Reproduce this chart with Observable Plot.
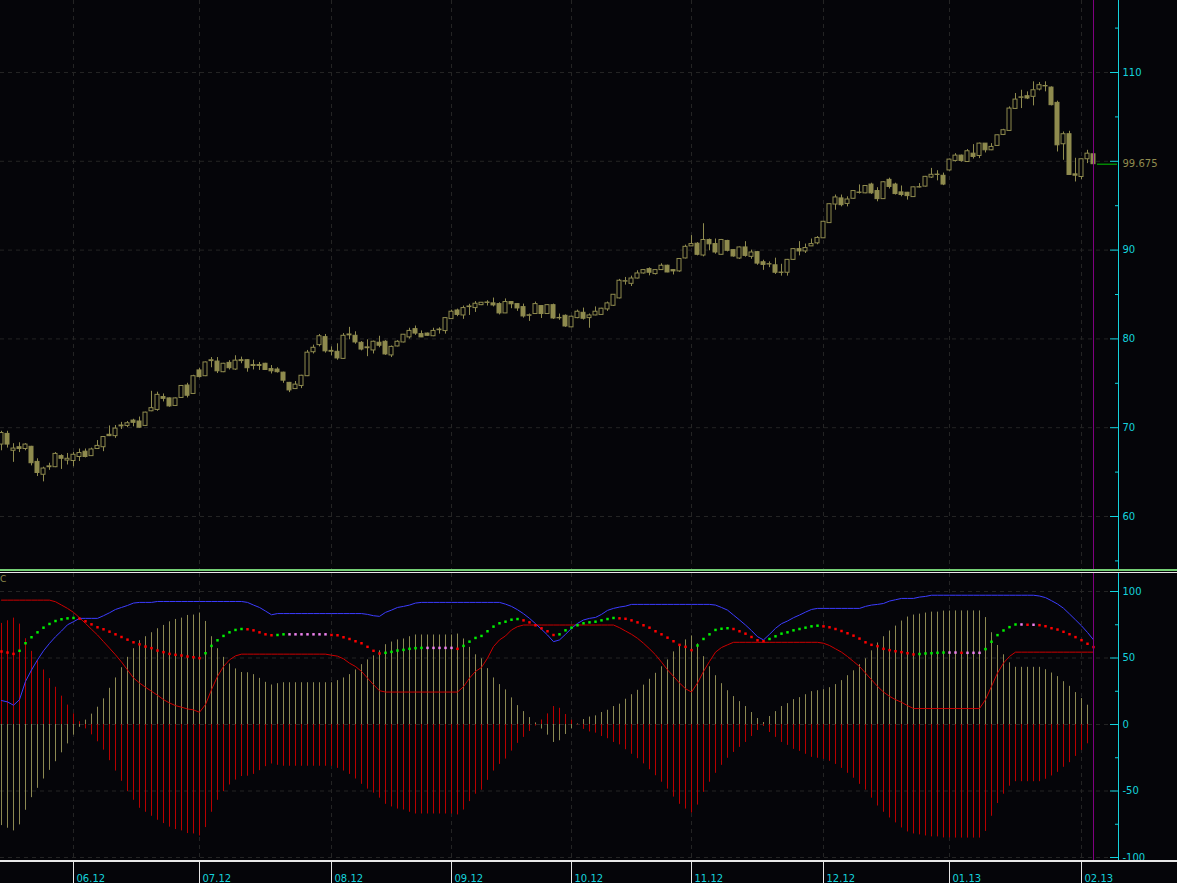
<!DOCTYPE html>
<html>
<head>
<meta charset="utf-8">
<script src="https://cdn.jsdelivr.net/npm/d3@7"></script>
<script src="https://cdn.jsdelivr.net/npm/@observablehq/plot@0.6"></script>
<style>
html,body{margin:0;padding:0;background:#050509;overflow:hidden}
#wrap{position:relative;width:1177px;height:883px;background:#050509;font-family:"DejaVu Sans",sans-serif}
.panel{position:absolute;left:0}
.sep{position:absolute;left:0;width:1177px}
#ind{position:absolute;left:0;top:574px;color:#8f8b4f;font-size:9px;line-height:10px}
</style>
</head>
<body>
<div id="wrap">
  <div id="topPanel" class="panel" style="top:0"></div>
  <div class="sep" style="top:569px;height:2px;background:#74cf74"></div>
  <div class="sep" style="top:572px;height:1px;background:#e8e8e8"></div>
  <div id="bottomPanel" class="panel" style="top:573px"></div>
  <div class="sep" style="top:860px;height:2px;background:#e8e8e8"></div>
  <div id="xaxisPanel" class="panel" style="top:862px"></div>
  <span id="ind">C</span>
</div>
<script>
// ---------- data ----------
const monthIdx = [12, 33, 55, 75, 95, 115, 137, 158, 180];
const monthLabels = ["06.12","07.12","08.12","09.12","10.12","11.12","12.12","01.13","02.13"];
const priceTicks = [60, 70, 80, 90, 100, 110];
const priceMinor = [55, 65, 75, 85, 95, 105, 115];
const oscTicks = [-100, -50, 0, 50, 100];
const oscMinor = [-75, -25, 25, 75];

const open = [
68.1,69.3,67.4,67.8,67.6,67.85,66.15,64.7,65.55,65.55,
66.8,66.3,66.25,66.7,67.3,66.8,67.6,67.8,69.2,69.05,
70.15,70.2,70.8,70.7,70.2,71.85,72.0,73.45,73.3,72.45,
73.35,74.75,73.8,76.45,75.8,77.5,77.45,76.25,77.3,76.55,
77.6,77.6,77.05,77.05,77.2,76.6,76.55,76.2,75.05,74.35,
74.7,75.8,78.5,79.3,80.2,78.55,78.55,77.75,80.4,80.35,
79.56,78.95,78.7,79.57,79.68,78.14,79.15,79.6,80.17,81.1,
80.54,80.6,80.3,80.98,80.88,82.23,83.2,82.64,83.58,83.47,
83.8,84.05,84.0,83.92,82.87,84.15,83.92,83.58,82.6,82.8,
83.7,82.8,83.8,82.36,82.6,81.3,82.34,82.94,82.34,82.64,
82.7,83.32,83.73,84.56,86.45,86.2,86.8,87.37,87.86,87.3,
87.75,88.24,87.75,87.6,89.06,90.42,90.72,89.39,91.14,90.68,
89.47,91.03,90.0,89.05,90.3,89.24,89.77,88.63,88.38,88.29,
87.43,87.45,88.9,90.11,89.85,90.42,90.76,91.33,93.04,95.13,
95.82,95.2,95.78,96.44,96.39,97.38,96.65,95.74,97.91,97.38,
96.5,96.46,95.97,97.05,97.15,98.17,98.46,98.37,98.97,100.04,
100.64,99.92,100.86,100.6,101.99,101.24,101.73,102.97,103.42,105.9,
107.15,107.33,107.26,108.08,108.44,108.3,106.58,101.92,103.05,98.53,
98.23,100.23,100.79];
const high = [
69.6,69.6,68.2,68.3,68.2,67.9,66.5,65.55,66.0,67.2,
66.95,67.1,67.2,67.6,67.6,67.7,68.55,68.97,70.2,70.25,
70.6,70.7,70.95,71.2,71.75,74.1,74.0,73.8,73.35,73.35,
74.75,75.0,75.9,76.7,77.4,77.9,77.9,77.25,77.55,78.1,
77.95,77.65,77.6,77.35,77.25,77.0,76.75,76.25,75.1,75.2,
75.9,78.7,79.3,80.5,80.5,79.1,79.45,80.6,81.3,80.8,
79.7,79.9,79.75,80.3,79.8,79.2,79.8,80.5,81.2,81.45,
80.9,80.65,81.2,81.25,82.4,83.24,83.35,83.7,83.9,84.2,
84.1,84.3,84.6,84.07,84.5,84.2,83.95,83.92,82.8,84.15,
83.75,83.85,83.92,82.8,82.7,82.55,83.24,83.47,82.8,83.6,
83.45,84.15,85.0,86.7,86.92,87.07,87.67,87.8,88.0,87.8,
88.46,88.3,87.8,89.05,90.56,91.63,90.84,92.97,91.25,91.25,
91.2,91.1,90.05,90.35,90.95,90.0,89.85,88.86,88.67,89.09,
88.4,88.95,90.15,90.95,90.68,91.25,91.52,93.25,95.2,96.2,
96.2,96.0,96.7,97.34,97.25,97.53,97.03,97.7,98.1,97.53,
97.22,96.5,97.1,97.49,98.3,99.2,98.94,98.67,100.25,100.86,
100.7,101.32,101.88,102.05,102.0,101.99,102.95,103.6,106.13,107.63,
108.0,107.82,108.95,108.87,108.95,108.38,106.77,103.3,103.38,100.34,
100.25,101.24,100.9];
const low = [
67.4,67.7,66.1,67.2,67.4,65.7,64.5,63.9,65.2,65.5,
65.3,65.8,65.6,66.2,66.6,66.75,67.55,67.3,69.0,68.8,
69.8,70.0,70.1,69.95,70.15,71.8,71.85,72.9,72.3,72.4,
73.3,73.35,73.75,75.6,75.75,76.75,76.1,76.2,76.5,76.45,
77.2,76.25,76.5,76.45,76.45,76.05,76.15,75.0,73.95,74.3,
74.4,75.75,78.3,79.1,78.4,78.1,77.6,77.7,79.9,79.4,
78.65,78.0,78.3,79.0,78.15,77.9,79.1,79.55,79.98,80.4,
80.15,80.3,80.25,80.54,80.54,82.2,82.5,82.2,82.64,82.98,
83.75,83.7,83.6,82.7,82.85,83.4,83.1,82.34,81.97,82.75,
82.3,82.75,82.2,82.1,81.3,81.25,82.27,82.12,81.2,82.6,
82.65,83.1,83.65,84.5,86.06,85.9,86.75,87.3,87.1,87.2,
87.7,87.45,87.2,87.5,89.0,90.4,89.35,89.24,89.92,89.54,
89.45,89.8,89.2,88.95,89.2,88.97,88.29,87.72,88.02,87.26,
87.07,87.07,88.85,89.35,89.62,90.4,90.6,91.3,93.0,94.49,
94.87,94.87,95.75,96.31,96.35,96.27,95.44,95.7,96.88,96.2,
96.0,95.63,95.95,97.0,97.1,98.06,97.8,97.26,98.9,99.92,
99.9,99.9,100.26,100.3,100.94,101.2,101.7,102.9,103.4,105.85,
105.94,106.95,106.24,107.93,107.82,106.24,101.05,100.11,98.4,97.67,
97.93,99.74,99.6];
const close = [
69.4,68.1,67.65,67.6,68.1,66.0,64.9,65.4,65.65,67.05,
66.5,66.5,66.95,67.15,66.7,67.55,67.95,68.95,69.05,69.9,
70.25,70.5,70.55,70.0,71.7,72.2,73.7,73.25,72.4,73.3,
74.7,73.6,75.8,75.7,77.35,77.6,76.35,77.2,76.7,77.55,
77.5,76.7,76.95,76.95,76.5,76.35,76.25,75.3,74.2,74.85,
75.85,78.45,79.0,80.3,78.6,78.65,77.8,80.35,80.5,79.6,
78.8,79.05,79.68,79.23,78.25,79.1,79.68,80.47,80.9,80.6,
80.17,80.35,80.9,81.05,82.34,83.06,82.7,83.47,83.65,83.96,
84.07,84.1,83.77,82.87,84.15,83.9,83.43,82.53,82.66,83.92,
82.8,83.8,82.3,82.32,81.4,82.5,83.06,82.27,82.64,83.06,
83.4,84.0,84.97,86.55,86.5,86.8,87.37,87.75,87.45,87.75,
88.24,87.48,87.6,89.0,90.37,90.68,89.47,91.14,90.65,89.73,
91.14,89.92,89.28,90.3,89.35,89.73,88.48,88.33,88.42,87.45,
87.47,88.9,90.11,89.85,90.23,90.68,91.37,93.19,95.17,95.93,
95.06,95.7,96.65,96.48,97.22,96.39,95.74,97.64,97.11,96.31,
96.2,96.08,97.07,97.09,98.25,98.48,98.5,97.38,100.19,100.64,
100.04,101.13,100.49,101.99,101.24,101.62,102.93,103.5,105.94,106.95,
107.2,107.07,108.0,108.57,108.48,106.32,101.8,103.05,98.46,98.38,
100.23,100.86,99.675];

// oscillator histogram (olive = value, red = mirror)
const osc = [
-76,-78,-80,-75.5,-64.5,-55,-48,-41,-34.5,-28,
-21.3,-14.6,-8,-2.1,3.3,7.8,13,19.3,27.2,35,
42.7,50.5,57,63,66,69,72,74.5,77.2,79,
80,82,82.3,83.8,77.5,66,57,50.5,45.5,41.8,
39.1,38.9,37.5,34.7,31.7,29.7,30.7,31.4,31.4,31.4,
31.4,31.4,31.4,31.4,31.4,31.4,33,35,37.5,41,
45,48.6,51.6,55.4,60,62,63.6,64.3,66,67.3,
67.3,67.3,67.3,67.3,67.3,67.3,68,64.3,58,52.4,
49.4,42,35,30,26,20,14.2,9.7,5.2,1.2,
-3.4,-8,-13.5,-12.2,-7.5,-3.2,0.4,3.7,5.6,6.5,
9,10.7,13.5,15.3,19,22.4,25.7,29.6,34,38.5,
43.4,48.6,54.6,60,63.6,66.6,60.6,51,43.4,36.7,
30.7,25.4,21,17.2,13.5,9,4.5,1.5,6,9.7,
13.5,15.7,18.7,20.2,22.4,24.7,25.4,26.2,27.7,30,
33,36.7,40.4,45,49.4,55.4,61.3,66,70.3,74,
77.8,80.8,82.3,83,83.8,84.5,84.5,85.3,85.3,85.4,
85.4,85.4,85.4,85.4,80.4,69,59.4,52.4,46.4,43,
43,43,43,43,41.2,38.7,36,32.2,28.7,24,
19.5,14.5,8.7];
const upperLine = [
18,17,14.5,18.7,32.4,41,48.6,55.4,61,66,
70.3,75,77.3,79.8,79.8,79.8,79.8,81.8,84,86.5,
88,89.5,91.3,91.8,91.8,91.8,92.5,92.5,92.5,92.5,
92.5,92.5,92.5,92.5,92.5,92.5,92.5,92.5,92.5,92.5,
92.5,91.8,89.8,88,85.3,82.5,83.4,83.4,83.4,83.4,
83.4,83.4,83.4,83.4,83.4,83.4,83.4,83.4,83.4,83.4,
83.4,82.8,81.8,81.3,84.3,86,88,88.8,89.8,91.3,
91.8,91.8,91.8,91.8,91.8,91.8,91.8,91.8,91.8,91.8,
91.8,91.8,91.8,91.8,90.5,88.8,86.3,83.3,79.8,75.8,
71.6,67.3,62.3,63.6,67.8,72.3,76,78.6,79.8,80.5,
82.8,85.8,87.3,88.3,89,90.3,90.3,90.3,90.3,90.3,
90.3,90.3,90.3,90.3,90.3,90.3,90.3,90.3,90.3,89.8,
88,86,82.3,78.6,74.8,70.6,66,63.6,67.8,72.3,
75.8,77.8,80.3,82.3,84.5,86.5,87.3,87.3,87.3,87.3,
87.3,87.3,87.3,87.3,88.8,89.8,90.3,91,92.8,93.8,
94.8,94.8,94.8,95.8,96.3,97.2,97.2,97.2,97.2,97.2,
97.2,97.2,97.2,97.2,97.2,97.2,97.2,97.2,97.2,97.2,
97.2,97.2,97.2,96.6,95.4,93.1,90.6,87.4,83.1,78.7,
74.2,69.2,63.7];
const lowerLine = [
93.5,93.5,93.5,93.5,93.5,93.5,93.5,93.5,93.5,92.3,
89.8,87.3,84.3,80.3,76,71.6,67.3,62.3,57.4,52.4,
47,41,35,31.2,28,25,22,18.7,16.2,14.2,
13,11.7,11,9.2,15,26.2,36.2,43.6,48.6,51.6,
52.9,52.9,52.9,52.9,52.9,52.9,52.9,52.9,52.9,52.9,
52.9,52.9,52.9,52.9,52.9,52.1,51.4,49.4,46.1,43.6,
39.9,34.9,29.9,25.4,24.4,24.4,24.4,24.4,24.4,24.4,
24.4,24.4,24.4,24.4,24.4,24.4,24.4,28.4,34.9,39.9,
42.9,49.9,58.6,63.6,66.6,71.1,73.6,74.8,74.8,74.8,
74.8,74.8,74.8,74.8,74.8,74.8,74.8,74.8,74.8,74.8,
74.8,74.8,74.8,72.8,70.3,67.8,64.8,61.1,56.9,52.4,
46.9,41.1,36.2,31.2,26.9,24.4,31.2,39.9,47.4,54.4,
57.9,59.9,61.8,61.8,61.8,61.8,61.8,61.8,61.8,61.8,
61.8,61.8,61.8,61.8,61.8,61.8,61.8,61.1,59.4,56.9,
54.4,51.1,47.4,43.6,38.7,33.7,28.7,24.4,21.2,18.7,
16.7,14.2,12,12,12,12,12,12,12,12,
12,12,12,12,18.7,28.7,38.7,46.2,51.2,54.4,
54.4,54.4,54.4,54.4,54.4,54.4,54.4,54.4,54.4,54.4,
54.4,54.4,54.4];
const signalDots = [
54.9,54.1,53.1,55.4,61.1,65.6,69.3,72.8,75.6,77.8,
79.1,79.8,80.1,79.6,77.6,75.3,73.1,71.6,69.8,67.8,
65.8,63.8,61.8,60.3,58.6,57.4,55.6,54.4,53.1,52.4,
51.9,51.1,50.6,49.9,53.6,59.1,63.3,66.6,69.3,71.1,
71.8,71.6,70.8,69.3,67.8,67.1,67.3,67.8,67.8,67.8,
67.8,67.8,67.8,67.8,67.8,67.3,67.1,65.6,64.3,62.6,
61.1,58.4,55.4,53.4,53.9,54.6,55.6,56.1,56.9,57.4,
57.6,57.6,57.6,57.6,57.6,57.6,56.9,59.1,62.3,65.1,
66.6,70.1,73.6,76.1,77.3,78.8,79.3,78.3,76.8,74.6,
72.3,70.1,67.3,67.8,70.8,72.8,74.6,76.1,76.8,77.3,
78.3,79.3,80.1,79.8,79.5,78.3,76.8,74.6,72.8,70.1,
67.8,65.3,62.6,59.9,58.4,55.9,59.4,64.3,67.8,71.1,
72.0,72.4,71.8,70.1,68.3,65.8,63.3,62.6,64.3,66.3,
68.3,69.3,70.8,71.8,72.8,73.8,74.3,73.8,73.1,71.8,
70.3,68.6,66.8,64.6,61.8,59.9,58.9,56.9,55.9,55.1,
54.4,53.6,52.7,53.0,53.4,53.6,53.9,54.1,54.1,54.1,
53.9,53.9,53.9,53.9,56.7,62.2,67.2,70.7,73.2,75.2,
75.2,75.0,75.0,74.7,73.9,72.4,71.4,69.7,67.9,65.7,
63.4,60.7,58.2];

// ---------- styles ----------
const BG = "#050509", OLIVE = "#8f8b4f", HOLIVE = "#8c8852", HRED = "#b80000",
      LRED = "#cc0000", BLUE = "#3c3cff", CYAN = "#14d2dc", GRID = "#242424",
      PURPLE = "#800080", DOTG = "#00f000", DOTR = "#ff0000", DOTP = "#ee82ee";
const W = 1177, RIGHT = 59, FRAMEW = W - RIGHT;
const N = close.length;
const idx = d3.range(N);
const xScale = {domain: [0, N - 1], range: [1, 1 + 6 * (N - 1)], axis: null};
const font = {background: "transparent", fontFamily: "DejaVu Sans, sans-serif", fontSize: "10px", overflow: "visible"};

const candles = idx.map(i => ({i, open: open[i], high: high[i], low: low[i], close: close[i]}));
const lastClose = close[N - 1];
const oscData = idx.map(i => ({
  i, v: osc[i], up: upperLine[i], lo: lowerLine[i], s: signalDots[i],
  trend: i === 0 ? -1 : Math.sign(signalDots[i] - signalDots[i - 1])
}));

// ---------- top panel ----------
const topChart = Plot.plot({
  width: W, height: 569, marginLeft: 0, marginRight: RIGHT, marginTop: 0, marginBottom: 0,
  x: xScale,
  y: {domain: [60, 110], range: [516, 72], axis: null},
  style: font,
  marks: [
    Plot.ruleY(priceTicks, {stroke: GRID, strokeDasharray: "4,4"}),
    Plot.ruleX(monthIdx, {stroke: GRID, strokeDasharray: "4,4"}),
    Plot.ruleX(candles, {x: "i", y1: "low", y2: "high", stroke: OLIVE}),
    Plot.rect(candles, {filter: d => d.close >= d.open, x1: d => d.i - 0.5, x2: d => d.i + 0.5,
      y1: "open", y2: "close", insetLeft: 1, insetRight: 1, fill: BG, stroke: OLIVE}),
    Plot.rect(candles, {filter: d => d.close < d.open, x1: d => d.i - 0.5, x2: d => d.i + 0.5,
      y1: "open", y2: "close", insetLeft: 1, insetRight: 1, fill: OLIVE, stroke: OLIVE}),
    Plot.ruleX([N - 1], {stroke: PURPLE}),
    Plot.tickY(priceTicks, {y: d => d, stroke: CYAN, insetLeft: FRAMEW - 8}),
    Plot.tickY(priceMinor, {y: d => d, stroke: CYAN, insetLeft: FRAMEW - 3}),
    Plot.tickY([lastClose], {y: d => d, stroke: "#00c800", insetLeft: FRAMEW - 21, insetRight: 1}),
    Plot.text(priceTicks.filter(t => Math.abs(t - lastClose) > 2), {y: d => d, text: d => String(d),
      frameAnchor: "right", textAnchor: "start", dx: 4, fill: CYAN, fontSize: 10}),
    Plot.text([lastClose], {y: d => d, text: d => d.toFixed(3), frameAnchor: "right",
      textAnchor: "start", dx: 4, fill: OLIVE, fontSize: 10}),
    Plot.frame({anchor: "right", stroke: CYAN})
  ]
});
document.getElementById("topPanel").appendChild(topChart);

// ---------- bottom panel ----------
const bottomChart = Plot.plot({
  width: W, height: 287, marginLeft: 0, marginRight: RIGHT, marginTop: 0, marginBottom: 0,
  x: xScale,
  y: {domain: [-100, 100], range: [284, 18], axis: null},
  color: {type: "identity"},
  style: font,
  marks: [
    Plot.ruleY(oscTicks, {stroke: GRID, strokeDasharray: "4,4"}),
    Plot.ruleX(monthIdx, {stroke: GRID, strokeDasharray: "4,4"}),
    Plot.ruleX(oscData, {x: "i", y1: 0, y2: d => -d.v, stroke: HRED}),
    Plot.ruleX(oscData, {x: "i", y1: 0, y2: "v", stroke: HOLIVE}),
    Plot.line(oscData, {x: "i", y: "lo", stroke: LRED, strokeWidth: 1}),
    Plot.line(oscData, {x: "i", y: "up", stroke: BLUE, strokeWidth: 1}),
    Plot.dot(oscData, {x: "i", y: "s", symbol: "square", r: 1.4, stroke: null,
      fill: d => d.trend > 0 ? DOTG : d.trend < 0 ? DOTR : DOTP}),
    Plot.ruleX([N - 1], {stroke: PURPLE}),
    Plot.tickY(oscTicks, {y: d => d, stroke: CYAN, insetLeft: FRAMEW - 8}),
    Plot.tickY(oscMinor, {y: d => d, stroke: CYAN, insetLeft: FRAMEW - 3}),
    Plot.text(oscTicks, {y: d => d, text: d => String(d), frameAnchor: "right",
      textAnchor: "start", dx: 4, fill: CYAN, fontSize: 10}),
    Plot.frame({anchor: "right", stroke: CYAN})
  ]
});
document.getElementById("bottomPanel").appendChild(bottomChart);

// ---------- x axis ----------
const xaxisChart = Plot.plot({
  width: W, height: 21, marginLeft: 0, marginRight: RIGHT, marginTop: 0, marginBottom: 0,
  x: xScale, y: {axis: null},
  style: font,
  marks: [
    Plot.ruleX(monthIdx, {stroke: "#e6e6e6"}),
    Plot.text(monthIdx, {x: d => d, text: (d, i) => monthLabels[i], frameAnchor: "bottom",
      lineAnchor: "bottom", dy: -2, dx: 3, textAnchor: "start", fill: CYAN, fontSize: 10})
  ]
});
document.getElementById("xaxisPanel").appendChild(xaxisChart);
</script>
</body>
</html>
